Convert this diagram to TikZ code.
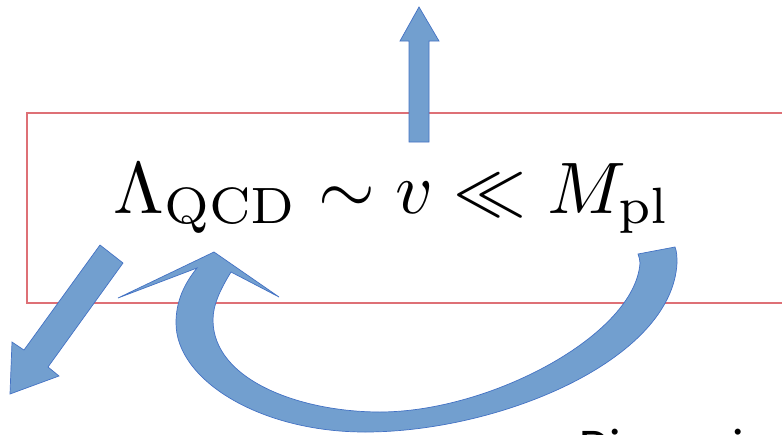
\documentclass[tikz,border=0pt]{standalone}
\usepackage{fontspec}
\newfontfamily\calib{Carlito}
\begin{document}
\begin{tikzpicture}[x=1pt,y=-1pt,
  fatarrow/.style={fill=arrowfill, draw=arrowedge, line width=0.7pt, line join=miter},
  mathtext/.style={inner sep=0pt, anchor=base, scale=7.3, font=\fontsize{10}{12}\selectfont},
  captext/.style={inner sep=0pt, anchor=base west, font=\calib\fontsize{50}{60}\selectfont}]
\definecolor{arrowfill}{RGB}{114,159,207}
\definecolor{arrowedge}{RGB}{68,114,196}
\definecolor{boxred}{RGB}{222,112,118}
\useasboundingbox (0,0) rectangle (782,434);
\fill[white] (0,0) rectangle (782,434);
% red box (runs off the right edge)
\draw[draw=boxred, line width=1.4pt] (800,113) -- (27,113) -- (27,303) -- (800,303);
% formula
\node[mathtext] (formula) at (392,213) {$\Lambda_{\mathrm{QCD}}\sim v\ll M_{\mathrm{pl}}$};
% up arrow
\draw[fatarrow] (409,142) -- (409,41) -- (400,41) -- (419,7) -- (439,41) -- (429,41) -- (429,142) -- cycle;
% diagonal arrow to lower left
\draw[fatarrow] (100,245) -- (24,350) -- (12,342) -- (10,394) -- (59,376) -- (48,367) -- (123,263) -- cycle;
% curved arrow
\draw[fatarrow] (675,247) .. controls (677,252) and (677,258) .. (677,263)
  .. controls (672,360) and (500,432) .. (365,432)
  .. controls (260,432) and (176,380) .. (176,323)
  .. controls (176,300) and (185,283) .. (197,268)
  -- (118,298) -- (214,252) -- (279,297) -- (231,272)
  .. controls (220,290) and (213,305) .. (213,320)
  .. controls (213,380) and (300,412) .. (380,412)
  .. controls (490,412) and (635,335) .. (640,263)
  .. controls (640,260) and (639,257) .. (638,254) -- cycle;
% caption cut off at the bottom
\node[captext] (caption) at (579,463) {Dimensional};
\end{tikzpicture}
\end{document}
